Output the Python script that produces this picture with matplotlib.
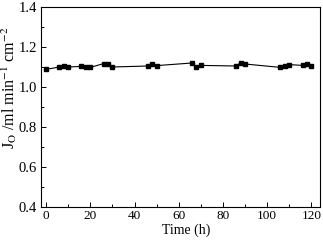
import matplotlib
matplotlib.use('Agg')
import matplotlib.pyplot as plt
from matplotlib.ticker import MultipleLocator

# Data
time_h = [0, 6, 8, 10, 16, 18, 20, 26, 28, 30, 46, 48, 50, 66, 68, 70,
          86, 88, 90, 106, 108, 110, 116, 118, 120]
flux = [1.088, 1.100, 1.105, 1.100, 1.103, 1.098, 1.098, 1.117, 1.113, 1.100,
        1.105, 1.115, 1.107, 1.120, 1.100, 1.108, 1.105, 1.122, 1.115,
        1.098, 1.103, 1.112, 1.108, 1.117, 1.103]

plt.rcParams['font.family'] = 'Liberation Serif'
plt.rcParams['mathtext.fontset'] = 'stix'

fig = plt.figure(figsize=(3.23, 2.41), dpi=100)
ax = fig.add_axes([41 / 323, 34 / 241, 279 / 323, 200 / 241])

ax.plot(time_h, flux, color='black', linewidth=0.8, marker='s', markersize=3.4)

ax.set_xlim(-2.3, 123.9)
ax.set_ylim(0.4, 1.4)
ax.xaxis.set_major_locator(MultipleLocator(20))
ax.xaxis.set_minor_locator(MultipleLocator(10))
ax.yaxis.set_major_locator(MultipleLocator(0.2))
ax.yaxis.set_minor_locator(MultipleLocator(0.1))
ax.tick_params(which='both', direction='in', width=0.7)
ax.tick_params(axis='x', labelsize=9.5, pad=2)
ax.tick_params(axis='y', labelsize=10.5, pad=3)
ax.tick_params(which='major', length=3.5)
ax.tick_params(which='minor', length=2)
for s in ax.spines.values():
    s.set_linewidth(0.8)

ax.set_xlabel('Time (h)', fontsize=10, labelpad=0)
ax.xaxis.set_label_coords(0.52, -0.085)
ax.set_ylabel(r'J$_\mathrm{O}$ /ml min$^{-1}$ cm$^{-2}$', fontsize=11.5)
ax.yaxis.set_label_coords(-0.08, 0.595)

fig.savefig('out.png', dpi=100)
